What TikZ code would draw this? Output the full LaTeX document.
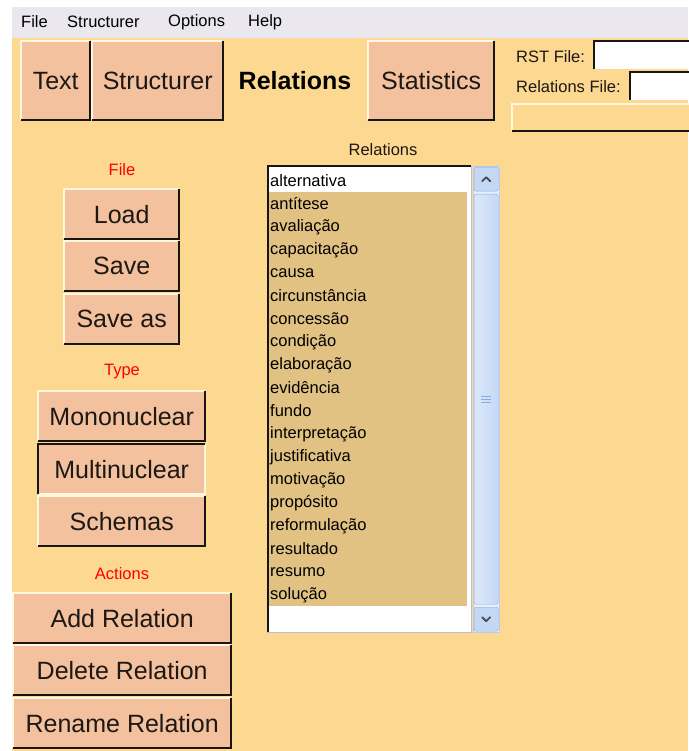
\documentclass[tikz,border=0pt]{standalone}
\usepackage{fontspec}
\setmainfont{Liberation Sans}
\definecolor{winbg}{RGB}{252,216,145}
\definecolor{btnface}{RGB}{244,193,158}
\definecolor{menubar}{RGB}{234,232,238}
\definecolor{listbg}{RGB}{226,194,131}
\definecolor{hilite}{RGB}{255,247,222}
\definecolor{lolite}{RGB}{25,22,18}
\definecolor{txt}{RGB}{28,24,20}
\definecolor{sbtrack}{RGB}{232,239,250}
\definecolor{sbface}{RGB}{196,216,246}
\definecolor{sbedge}{RGB}{140,170,220}
\newcommand\bigf{\fontsize{25}{25}\selectfont}
\newcommand\smallf{\fontsize{16.5}{18}\selectfont}
% raised and sunken 3D edges around a named node
\newcommand\bevelup[1]{%
  \draw[line width=2pt,hilite] ([shift={(1pt,1pt)}]#1.south west) |- ([shift={(-1pt,-1pt)}]#1.north east);
  \draw[line width=2pt,lolite] ([shift={(1pt,1pt)}]#1.south west) -| ([shift={(-1pt,-1pt)}]#1.north east);}
\newcommand\bevelin[1]{%
  \draw[line width=2pt,hilite] ([shift={(1pt,1pt)}]#1.south west) -| ([shift={(-1pt,-1pt)}]#1.north east);
  \draw[line width=2pt,lolite] ([shift={(1pt,1pt)}]#1.south west) |- ([shift={(-1pt,-1pt)}]#1.north east);}
\tikzset{
  btn/.style={fill=btnface, inner sep=0pt, anchor=north west, text=txt, font=\bigf},
  tab/.style={btn, minimum height=81pt},
  filebtn/.style={btn, minimum width=117pt, minimum height=52pt},
  typebtn/.style={btn, minimum width=169pt, minimum height=52pt},
  actbtn/.style={btn, minimum width=220pt, minimum height=52pt},
  group/.style={text=red, font=\smallf, inner sep=0pt},
  menuitem/.style={font=\smallf, text=black, inner sep=0pt, anchor=west},
  label/.style={font=\smallf, text=txt, inner sep=0pt},
  field/.style={fill=white, inner sep=0pt, anchor=north west, minimum height=28pt},
  item/.style={font=\smallf, text=black, inner sep=0pt, anchor=west},
  sbbtn/.style={draw=sbedge, fill=sbface, rounded corners=2pt, inner sep=0pt, anchor=north west, minimum width=24pt},
}
\begin{document}
\begin{tikzpicture}[x=1pt,y=-1pt]
\useasboundingbox (0,0) rectangle (688,751);
\fill[white] (0,0) rectangle (688,751);
\fill[menubar] (12,7) rectangle (688,38);
\fill[winbg] (12,38) rectangle (688,751);

% menu bar
\node[menuitem] (mFile) at (21,22) {File};
\node[menuitem] (mStruct) at (67,22) {Structurer};
\node[menuitem] (mOpt) at (168,22) {Options};
\node[menuitem] (mHelp) at (248,22) {Help};

% tabs
\node[tab, minimum width=71pt] (tText) at (20,40) {Text};
\node[tab, minimum width=133pt] (tStruct) at (91,40) {Structurer};
\node[font=\bigf\bfseries, text=black, inner sep=0pt] (tRel) at (295,81) {Relations};
\node[tab, minimum width=128pt] (tStat) at (367,40) {Statistics};
\bevelup{tText}\bevelup{tStruct}\bevelup{tStat}

% file fields (running on past the right edge of the window)
\node[label, anchor=west] (rstLbl) at (516,57) {RST File:};
\node[field, minimum width=100pt] (rstField) at (593,41) {};
\node[label, anchor=west] (relLbl) at (516,87) {Relations File:};
\node[field, minimum width=64pt] (relField) at (629,72) {};
\draw[line width=2pt,lolite] ([shift={(1pt,0pt)}]rstField.south west) |- (rstField.north east);
\draw[line width=2pt,lolite] ([shift={(1pt,0pt)}]relField.south west) |- (relField.north east);
\node[fill=winbg, inner sep=0pt, anchor=north west, minimum width=186pt, minimum height=29pt] (statusBar) at (511,103) {};
\bevelup{statusBar}

% File group
\node[group] (gFile) at (122,170) {File};
\node[filebtn] (bLoad) at (63,188) {Load};
\node[filebtn] (bSave) at (63,240) {Save};
\node[filebtn] (bSaveAs) at (63,293) {Save as};
\bevelup{bLoad}\bevelup{bSave}\bevelup{bSaveAs}

% Type group
\node[group] (gType) at (122,372) {Type};
\node[typebtn] (bMono) at (37,390) {Mononuclear};
\node[typebtn] (bMulti) at (37,443) {Multinuclear};
\node[typebtn] (bSchema) at (37,495) {Schemas};
\bevelup{bMono}\bevelin{bMulti}\bevelup{bSchema}

% Actions group
\node[group] (gAct) at (122,574) {Actions};
\node[actbtn] (bAdd) at (12,592) {Add Relation};
\node[actbtn] (bDel) at (12,644) {Delete Relation};
\node[actbtn] (bRen) at (12,697) {Rename Relation};
\bevelup{bAdd}\bevelup{bDel}\bevelup{bRen}

% relations list
\node[label] (listTitle) at (383,150) {Relations};
\node[fill=white, inner sep=0pt, anchor=north west, minimum width=204pt, minimum height=466pt] (listBox) at (267,166) {};
\fill[listbg] (269,192) rectangle (467,606);
\draw[line width=1pt, black!25] (listBox.south west) -| (listBox.north east);
\draw[line width=2pt, lolite] ([shift={(1pt,0pt)}]listBox.south west) |- (listBox.north east);
\foreach \t [count=\i from 0] in {alternativa,antítese,avaliação,capacitação,causa,circunstância,concessão,condição,elaboração,evidência,fundo,interpretação,justificativa,motivação,propósito,reformulação,resultado,resumo,solução}
  \node[item] (it\i) at (270,{181+23*\i}) {\t};

% scroll bar
\node[fill=sbtrack, draw=sbedge!60, inner sep=0pt, anchor=north west, minimum width=26pt, minimum height=466pt] (sbTrack) at (473,166) {};
\node[sbbtn, minimum height=24pt] (sbUp) at (474,167) {};
\node[sbbtn, minimum height=410pt, left color=sbface!60!white, right color=sbface] (sbThumb) at (474,194) {};
\node[sbbtn, minimum height=24pt] (sbDown) at (474,607) {};
\draw[line width=1.8pt, black!70, line cap=round, line join=round]
  ([shift={(-4pt,-2pt)}]sbUp.center) -- ([shift={(0pt,2pt)}]sbUp.center) -- ([shift={(4pt,-2pt)}]sbUp.center);
\draw[line width=1.8pt, black!70, line cap=round, line join=round]
  ([shift={(-4pt,2pt)}]sbDown.center) -- ([shift={(0pt,-2pt)}]sbDown.center) -- ([shift={(4pt,2pt)}]sbDown.center);
\foreach \dy in {-3,0,3}
  \draw[sbedge, line width=0.8pt] ([shift={(-5pt,\dy pt)}]sbThumb.center) -- ([shift={(5pt,\dy pt)}]sbThumb.center);
\end{tikzpicture}
\end{document}
